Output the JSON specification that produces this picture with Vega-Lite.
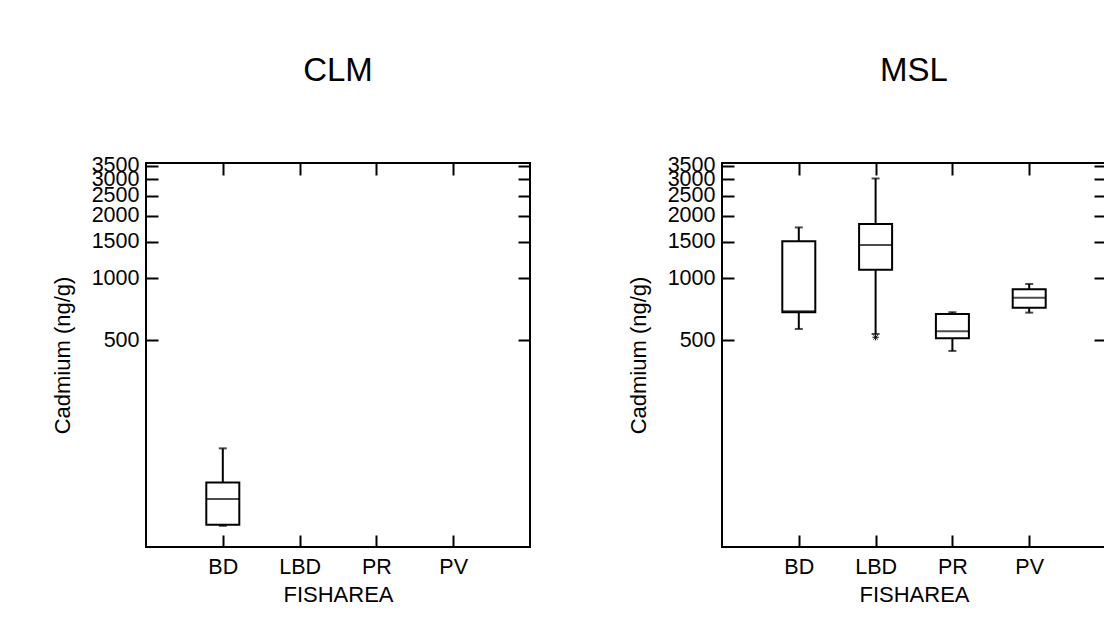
{
  "$schema": "https://vega.github.io/schema/vega-lite/v6.json",
  "padding": {"left": 50, "top": 53, "right": 0, "bottom": 0},
  "background": "white",
  "datasets": {
    "boxes": [
      {"panel": "CLM", "area": "BD", "lower": 63.3, "q1": 64.1, "median": 85.3, "q3": 102.5, "upper": 150},
      {"panel": "MSL", "area": "BD", "lower": 567, "q1": 683, "median": 690, "q3": 1504, "upper": 1757},
      {"panel": "MSL", "area": "LBD", "lower": 536, "q1": 1097, "median": 1443, "q3": 1823, "upper": 3030},
      {"panel": "MSL", "area": "PR", "lower": 444, "q1": 511, "median": 552, "q3": 670, "upper": 683},
      {"panel": "MSL", "area": "PV", "lower": 680, "q1": 719, "median": 803, "q3": 882, "upper": 936}
    ],
    "outliers": [
      {"panel": "MSL", "area": "LBD", "value": 517}
    ]
  },
  "bounds": "flush",
  "spacing": 192,
  "config": {
    "font": "Liberation Sans",
    "view": {"stroke": "black", "strokeWidth": 2},
    "axis": {
      "domain": false, "grid": false, "tickColor": "black", "tickWidth": 2, "tickSize": -12,
      "labelColor": "black", "labelFont": "Liberation Sans", "labelFontSize": 21.5,
      "titleColor": "black", "titleFont": "Liberation Sans", "titleFontSize": 22, "titleFontWeight": "normal",
      "labelOverlap": false, "labelFlush": false, "labelBound": false
    },
    "title": {"font": "Liberation Sans", "fontSize": 33, "fontWeight": "normal", "color": "black", "baseline": "alphabetic", "offset": 67, "anchor": "middle"}
  },
  "hconcat": [
    {
      "title": "CLM",
      "width": 384, "height": 384,
      "data": {"name": "boxes"},
      "transform": [{"filter": "datum.panel === 'CLM'"}],
      "layer": [
        {
          "mark": {"type": "rule", "stroke": "black", "strokeWidth": 2},
          "encoding": {
            "x": {"field": "area", "type": "nominal", "scale": {"type": "point", "domain": ["BD", "LBD", "PR", "PV"], "padding": 1},
                  "axis": {"orient": "bottom", "title": "FISHAREA", "labelAngle": 0, "labelPadding": 21, "titlePadding": 7}},
            "y": {"field": "lower", "type": "quantitative", "scale": {"type": "log", "domain": [50, 3600], "nice": false},
                  "axis": {"orient": "left", "title": "Cadmium (ng/g)", "values": [500, 1000, 1500, 2000, 2500, 3000, 3500], "format": "d", "labelPadding": 19, "titlePadding": 17}},
            "y2": {"field": "upper"}
          }
        },
        {
          "mark": {"type": "bar", "fill": "white", "stroke": "black", "strokeWidth": 2, "size": 33},
          "encoding": {
            "x": {"field": "area", "type": "nominal", "axis": {"orient": "top", "title": null, "labels": false}},
            "y": {"field": "q1", "type": "quantitative", "axis": {"orient": "right", "title": null, "labels": false, "values": [500, 1000, 1500, 2000, 2500, 3000, 3500]}},
            "y2": {"field": "q3"}
          }
        },
        {
          "mark": {"type": "tick", "color": "black", "size": 33, "thickness": 2},
          "encoding": {
            "x": {"field": "area", "type": "nominal", "axis": null},
            "y": {"field": "median", "type": "quantitative", "axis": null}
          }
        },
        {
          "mark": {"type": "tick", "color": "black", "size": 8, "thickness": 2},
          "encoding": {
            "x": {"field": "area", "type": "nominal", "axis": null},
            "y": {"field": "lower", "type": "quantitative", "axis": null}
          }
        },
        {
          "mark": {"type": "tick", "color": "black", "size": 8, "thickness": 2},
          "encoding": {
            "x": {"field": "area", "type": "nominal", "axis": null},
            "y": {"field": "upper", "type": "quantitative", "axis": null}
          }
        }
      ],
      "resolve": {"axis": {"x": "independent", "y": "independent"}}
    },
    {
      "title": "MSL",
      "width": 384, "height": 384,
      "layer": [
        {
          "data": {"name": "boxes"},
          "transform": [{"filter": "datum.panel === 'MSL'"}],
          "mark": {"type": "rule", "stroke": "black", "strokeWidth": 2},
          "encoding": {
            "x": {"field": "area", "type": "nominal", "scale": {"type": "point", "domain": ["BD", "LBD", "PR", "PV"], "padding": 1},
                  "axis": {"orient": "bottom", "title": "FISHAREA", "labelAngle": 0, "labelPadding": 21, "titlePadding": 7}},
            "y": {"field": "lower", "type": "quantitative", "scale": {"type": "log", "domain": [50, 3600], "nice": false},
                  "axis": {"orient": "left", "title": "Cadmium (ng/g)", "values": [500, 1000, 1500, 2000, 2500, 3000, 3500], "format": "d", "labelPadding": 19, "titlePadding": 17}},
            "y2": {"field": "upper"}
          }
        },
        {
          "data": {"name": "boxes"},
          "transform": [{"filter": "datum.panel === 'MSL'"}],
          "mark": {"type": "bar", "fill": "white", "stroke": "black", "strokeWidth": 2, "size": 33},
          "encoding": {
            "x": {"field": "area", "type": "nominal", "axis": {"orient": "top", "title": null, "labels": false}},
            "y": {"field": "q1", "type": "quantitative", "axis": {"orient": "right", "title": null, "labels": false, "values": [500, 1000, 1500, 2000, 2500, 3000, 3500]}},
            "y2": {"field": "q3"}
          }
        },
        {
          "data": {"name": "boxes"},
          "transform": [{"filter": "datum.panel === 'MSL'"}],
          "mark": {"type": "tick", "color": "black", "size": 33, "thickness": 2},
          "encoding": {
            "x": {"field": "area", "type": "nominal", "axis": null},
            "y": {"field": "median", "type": "quantitative", "axis": null}
          }
        },
        {
          "data": {"name": "boxes"},
          "transform": [{"filter": "datum.panel === 'MSL'"}],
          "mark": {"type": "tick", "color": "black", "size": 8, "thickness": 2},
          "encoding": {
            "x": {"field": "area", "type": "nominal", "axis": null},
            "y": {"field": "lower", "type": "quantitative", "axis": null}
          }
        },
        {
          "data": {"name": "boxes"},
          "transform": [{"filter": "datum.panel === 'MSL'"}],
          "mark": {"type": "tick", "color": "black", "size": 8, "thickness": 2},
          "encoding": {
            "x": {"field": "area", "type": "nominal", "axis": null},
            "y": {"field": "upper", "type": "quantitative", "axis": null}
          }
        },
        {
          "data": {"name": "outliers"},
          "transform": [{"filter": "datum.panel === 'MSL'"}],
          "mark": {"type": "point", "shape": "M-1,0L1,0M0,-1L0,1M-0.7,-0.7L0.7,0.7M-0.7,0.7L0.7,-0.7", "filled": false, "stroke": "black", "strokeWidth": 1, "size": 40, "opacity": 1},
          "encoding": {
            "x": {"field": "area", "type": "nominal", "axis": null},
            "y": {"field": "value", "type": "quantitative", "axis": null}
          }
        }
      ],
      "resolve": {"axis": {"x": "independent", "y": "independent"}}
    }
  ]
}
